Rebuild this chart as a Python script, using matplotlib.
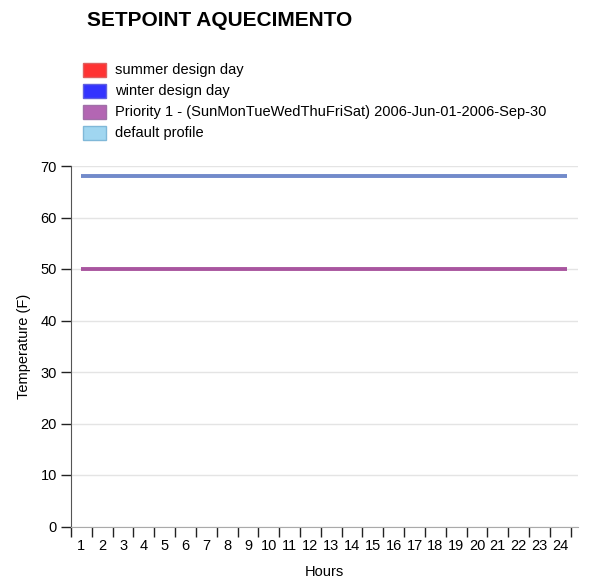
import numpy as np
import matplotlib.pyplot as plt
from matplotlib.patches import Rectangle

plt.rcParams['font.family'] = ['Liberation Sans', 'DejaVu Sans']

# hourly setpoints for each schedule profile
hours = list(range(1, 25))
series_names = ['summer design day', 'winter design day',
                'Priority 1 - (SunMonTueWedThuFriSat) 2006-Jun-01-2006-Sep-30',
                'default profile']
summer = [50] * 24
winter = [68] * 24
priority1 = [50] * 24
default = [68] * 24
series = [summer, winter, priority1, default]
colors = ['#ff3333', '#3333ff', '#b366b3', '#a0d6f0']
edges = ['#e06060', '#6060e0', '#a070a8', '#80b8d8']
# colours of the plotted lines (overlapping profiles blend together)
line_colors = ['#c0508f', '#5f74cc', '#a0509f', '#6f8ac8']

fig = plt.figure(figsize=(5.89, 5.83), dpi=100)
ax = fig.add_axes([71/589, 1-526.5/583, 507/589, (526.5-166)/583])

x = np.array(hours) - 0.5
for vals, col in zip(series, line_colors):
    ax.plot(np.append(x, x[-1] + 0.3), vals + [vals[-1]], color=col, lw=2.7, alpha=0.8,
            solid_capstyle='butt')

ax.set_xlim(0, 24.35)
ax.set_ylim(0, 70)
ax.set_yticks(range(0, 71, 10))
ax.set_xticks(range(0, 25))
ax.set_xticklabels([])
ax.set_xticks(x, minor=True)
ax.set_xticklabels([str(h) for h in hours], minor=True)
ax.tick_params(axis='x', which='major', direction='out', length=7, width=1, color='#222222')
ax.tick_params(axis='x', which='minor', length=0, pad=9, labelsize=10.5)
ax.tick_params(axis='y', direction='out', length=7, width=1, color='#222222', labelsize=10.5, pad=3)
ax.grid(axis='y', color='#e4e4e4', lw=1)
ax.set_axisbelow(True)
for s in ['top', 'right']:
    ax.spines[s].set_visible(False)
ax.spines['left'].set_color('#555555')
ax.spines['bottom'].set_color('#aaaaaa')
ax.set_xlabel('Hours', fontsize=10.5, labelpad=9)
ax.set_ylabel('Temperature (F)', fontsize=10.5, labelpad=7)

fig.text(87/589, 1-20/583, 'SETPOINT AQUECIMENTO', fontsize=15, fontweight='bold',
         va='center', ha='left')

# legend swatches
for i, (name, col, ec) in enumerate(zip(series_names, colors, edges)):
    yc = 70 + i * 21
    fig.add_artist(Rectangle((83/589, 1-(yc+7)/583), 23/589, 14/583, transform=fig.transFigure,
                             facecolor=col, edgecolor=ec, lw=1))
    fig.text(115/589, 1-yc/583, name, fontsize=10.5, va='center', ha='left')

plt.savefig('out.png', dpi=100)
